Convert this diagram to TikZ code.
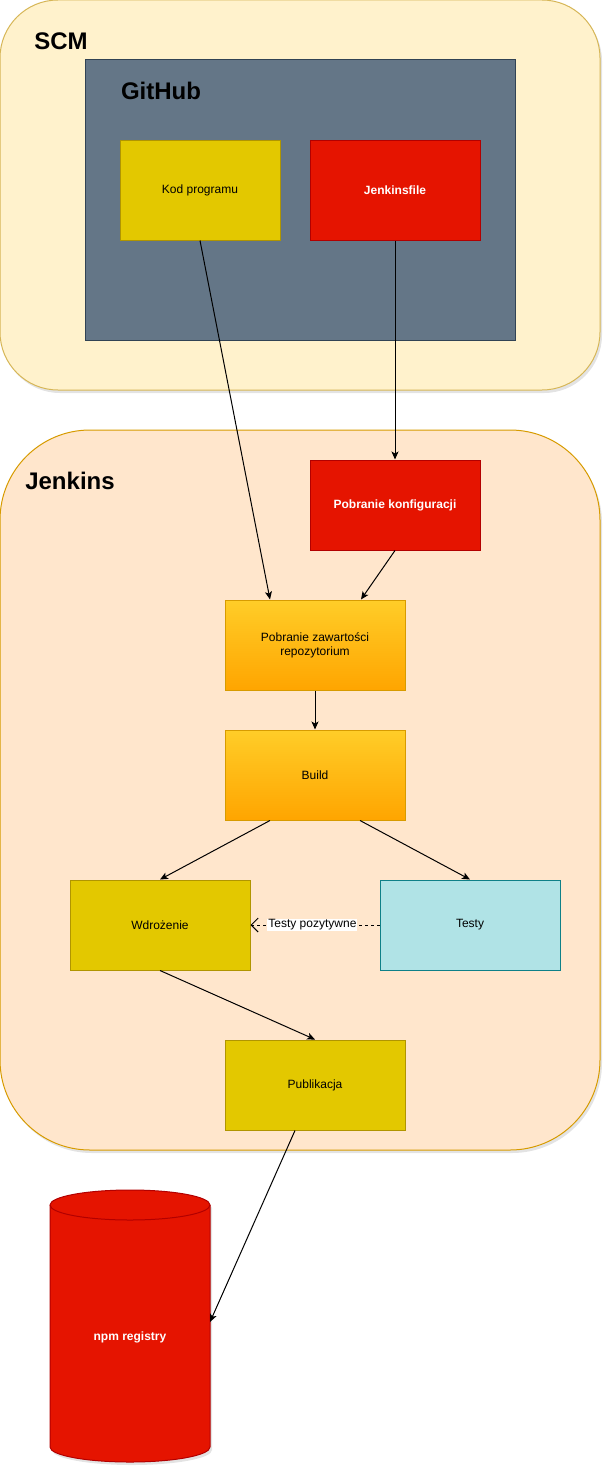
\documentclass[tikz,border=0pt]{standalone}
\usepackage{fontspec}
\setmainfont{Liberation Sans}
\usetikzlibrary{arrows.meta,calc,shadows}
\definecolor{scmfill}{HTML}{FFF2CC}\definecolor{scmline}{HTML}{D6B656}
\definecolor{ghfill}{HTML}{647687}\definecolor{ghline}{HTML}{314354}
\definecolor{yfill}{HTML}{E3C800}\definecolor{yline}{HTML}{B09500}
\definecolor{rfill}{HTML}{E51400}\definecolor{rline}{HTML}{B20000}
\definecolor{jfill}{HTML}{FFE6CC}\definecolor{jline}{HTML}{D79B00}
\definecolor{otop}{HTML}{FFCD28}\definecolor{obot}{HTML}{FFA500}
\definecolor{tfill}{HTML}{B0E3E6}\definecolor{tline}{HTML}{0E8088}
\begin{document}
\begin{tikzpicture}[x=1pt,y=-1pt,
  every node/.style={inner sep=0pt},
  shade/.style={drop shadow={opacity=0.22,shadow xshift=2pt,shadow yshift=-3pt}},
  container/.style={shade,line width=1pt},
  box/.style={rectangle,draw,line width=1pt,align=center,font=\fontsize{12pt}{14pt}\selectfont},
  ybox/.style={box,fill=yfill,draw=yline,text=black},
  rbox/.style={box,fill=rfill,draw=rline,text=white,font=\fontsize{12pt}{14pt}\selectfont\bfseries},
  obox/.style={box,top color=otop,bottom color=obot,draw=jline,text=black},
  tbox/.style={box,fill=tfill,draw=tline,text=black},
  title/.style={font=\fontsize{24pt}{28pt}\selectfont\bfseries,text=black},
  conn/.style={line width=1pt,-{Stealth[length=8pt,width=7pt,inset=2pt]}},
  dconn/.style={line width=1pt,dash pattern=on 3pt off 3pt,-{Straight Barb[length=7pt,width=14pt]}},
  elabel/.style={fill=white,inner sep=1pt,font=\fontsize{12pt}{14pt}\selectfont}
]
\useasboundingbox (0,0) rectangle (612,1472);
% containers
\node[container,rounded corners=58pt,fill=scmfill,draw=scmline,minimum width=600pt,minimum height=390pt] (scm) at (300,195) {};
\node[title] (scmt) at (61,41) {SCM};
\node[rectangle,fill=ghfill,draw=ghline,line width=1pt,minimum width=430pt,minimum height=280pt] (gh) at (300,200) {};
\node[title] (ght) at (161,91) {GitHub};
\node[container,rounded corners=90pt,fill=jfill,draw=jline,minimum width=600pt,minimum height=720pt] (jen) at (300,790) {};
\node[title] (jent) at (70,481) {Jenkins};
% boxes
\node[ybox,minimum width=160pt,minimum height=100pt] (kod) at (200,190) {Kod programu};
\node[rbox,minimum width=170pt,minimum height=100pt] (jf) at (395,190) {Jenkinsfile};
\node[rbox,minimum width=170pt,minimum height=90pt] (konf) at (395,505) {Pobranie konfiguracji};
\node[obox,minimum width=180pt,minimum height=90pt] (pz) at (315,645) {Pobranie zawartości\\repozytorium};
\node[obox,minimum width=180pt,minimum height=90pt] (build) at (315,775) {Build};
\node[ybox,minimum width=180pt,minimum height=90pt] (wd) at (160,925) {Wdrożenie};
\node[tbox,minimum width=180pt,minimum height=90pt] (te) at (470,925) {Testy};
\node[ybox,minimum width=180pt,minimum height=90pt] (pub) at (315,1085) {Publikacja};
% cylinder
\path[shade,fill=rfill,draw=rline,line width=1pt] (50,1205) -- (50,1447)
  arc[start angle=180,end angle=360,x radius=80pt,y radius=15pt] -- (210,1205)
  arc[start angle=0,end angle=180,x radius=80pt,y radius=15pt] -- cycle;
\draw[rline,line width=1pt] (50,1205) arc[start angle=180,end angle=360,x radius=80pt,y radius=15pt];
\node[text=white,font=\fontsize{12pt}{14pt}\selectfont\bfseries] (npm) at (130,1337) {npm registry};
\coordinate (npmin) at (210,1322);
% connectors
\draw[conn] (kod.south) -- ($(pz.north)+(-45,0)$);
\draw[conn] (jf.south) -- (konf.north);
\draw[conn] (konf.south) -- ($(pz.north)+(46,0)$);
\draw[conn] (pz.south) -- (build.north);
\draw[conn] ($(build.south)+(-45,0)$) -- (wd.north);
\draw[conn] ($(build.south)+(45,0)$) -- (te.north);
\draw[conn] (wd.south) -- (pub.north);
\draw[conn] ($(pub.south)+(-20,0)$) -- (npmin);
\draw[dconn] (te.west) -- node[elabel,pos=0.52] {Testy pozytywne} (wd.east);
\end{tikzpicture}
\end{document}
